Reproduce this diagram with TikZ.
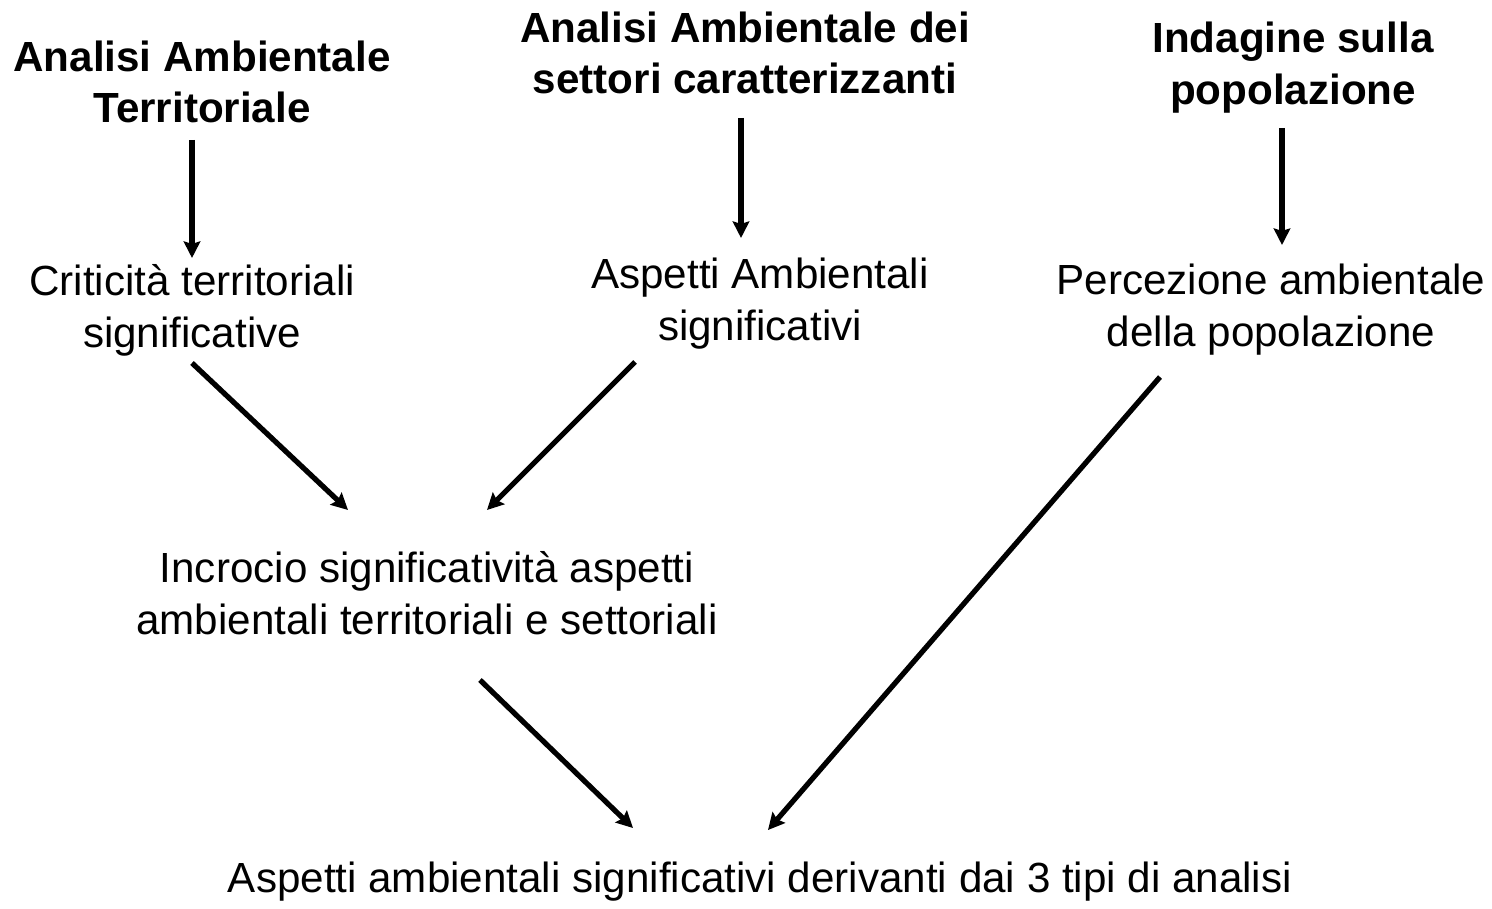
\documentclass[tikz,border=0pt]{standalone}
\usepackage{fontspec}
\setmainfont{Liberation Sans}
\usetikzlibrary{arrows.meta}
\begin{document}
\begin{tikzpicture}[x=0.02cm,y=-0.02cm,
  lbl/.style={align=center,font=\fontsize{24}{29.5}\selectfont,inner sep=0pt},
  ttl/.style={lbl,font=\fontsize{24}{29.5}\selectfont\bfseries},
  arr/.style={line width=0.105cm,-{Stealth[length=0.33cm,width=0.33cm,inset=0.05cm]}}]
\useasboundingbox (0,0) rectangle (1492,909);
\node[ttl] (t1) at (202,82) {Analisi Ambientale\\Territoriale};
\node[ttl] (t2) at (745,53) {Analisi Ambientale dei\\settori caratterizzanti};
\node[ttl] (t3) at (1293,68) {Indagine sulla\\popolazione};
\node[lbl] (c1) at (192,310) {Criticità territoriali\\significative};
\node[lbl] (c2) at (760,304) {Aspetti Ambientali\\significativi};
\node[lbl] (c3) at (1271,310) {Percezione ambientale\\della popolazione};
\node[lbl] (m) at (427,593) {Incrocio significatività aspetti\\ambientali territoriali e settoriali};
\node[lbl] (b) at (760,882) {Aspetti ambientali significativi derivanti dai 3 tipi di analisi};
\coordinate (a1s) at (192,140); \coordinate (a1e) at (192,258);
\coordinate (a2s) at (741,118); \coordinate (a2e) at (741,238);
\coordinate (a3s) at (1282,128); \coordinate (a3e) at (1282,245);
\coordinate (d1s) at (192,363); \coordinate (d1e) at (348,510);
\coordinate (d2s) at (635,362); \coordinate (d2e) at (487,510);
\coordinate (d3s) at (1160,377); \coordinate (d3e) at (768,830);
\coordinate (d4s) at (480,680); \coordinate (d4e) at (633,828);
\draw[arr] (a1s) -- (a1e);
\draw[arr] (a2s) -- (a2e);
\draw[arr] (a3s) -- (a3e);
\draw[arr] (d1s) -- (d1e);
\draw[arr] (d2s) -- (d2e);
\draw[arr] (d3s) -- (d3e);
\draw[arr] (d4s) -- (d4e);
\end{tikzpicture}
\end{document}
